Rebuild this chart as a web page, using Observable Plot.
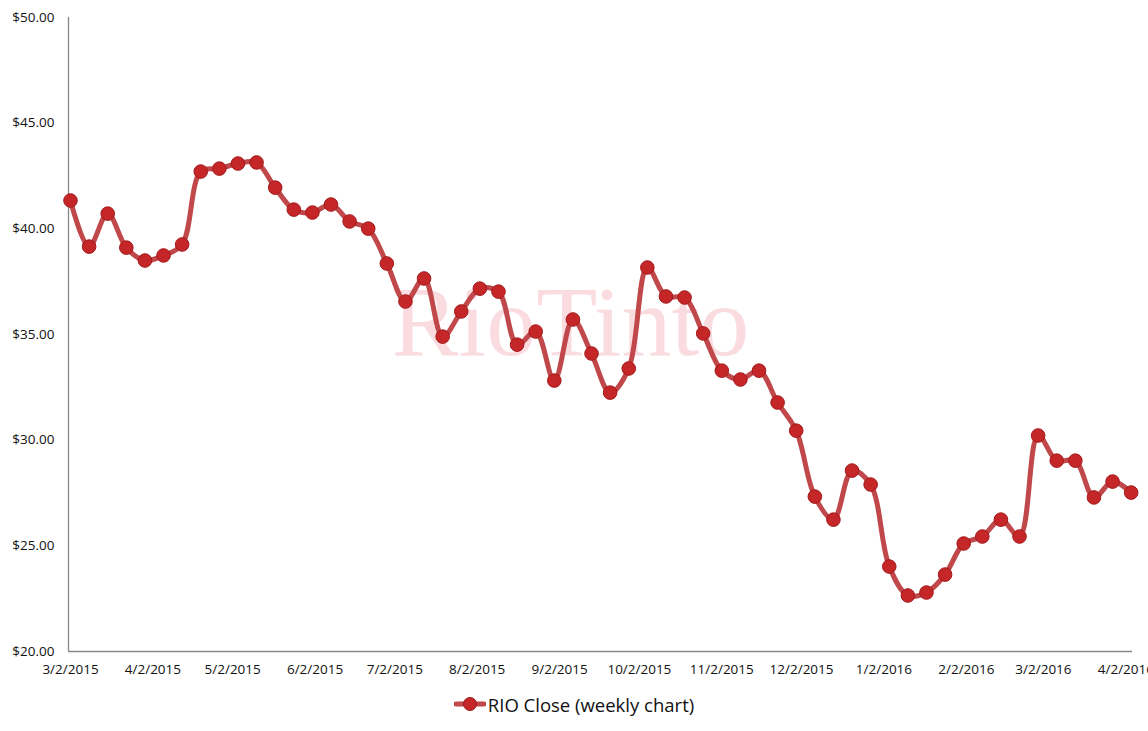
<!DOCTYPE html>
<html>
<head>
<meta charset="utf-8">
<script src="https://cdn.jsdelivr.net/npm/d3@7"></script>
<script src="https://cdn.jsdelivr.net/npm/@observablehq/plot@0.6"></script>
<style>
  html, body { margin: 0; padding: 0; background: #fff; overflow: hidden; }
  #chart { width: 1148px; }
  #legend { height: 38px; display: flex; justify-content: center; align-items: center; font-family: "Open Sans", sans-serif; font-size: 18.5px; color: #111; }
  #legend svg { margin-right: 2px; }
</style>
</head>
<body>
<div id="chart"></div>
<div id="legend"></div>
<script>
const weekDates = [
  "2015-03-02","2015-03-09","2015-03-16","2015-03-23","2015-03-30",
  "2015-04-06","2015-04-13","2015-04-20","2015-04-27",
  "2015-05-04","2015-05-11","2015-05-18","2015-05-25",
  "2015-06-01","2015-06-08","2015-06-15","2015-06-22","2015-06-29",
  "2015-07-06","2015-07-13","2015-07-20","2015-07-27",
  "2015-08-03","2015-08-10","2015-08-17","2015-08-24","2015-08-31",
  "2015-09-07","2015-09-14","2015-09-21","2015-09-28",
  "2015-10-05","2015-10-12","2015-10-19","2015-10-26",
  "2015-11-02","2015-11-09","2015-11-16","2015-11-23","2015-11-30",
  "2015-12-07","2015-12-14","2015-12-21","2015-12-28",
  "2016-01-04","2016-01-11","2016-01-18","2016-01-25",
  "2016-02-01","2016-02-08","2016-02-15","2016-02-22","2016-02-29",
  "2016-03-07","2016-03-14","2016-03-21","2016-03-28",
  "2016-04-04"
];
const closes = [
  41.34, 39.16, 40.72, 39.11, 38.50,
  38.74, 39.26, 42.71, 42.85,
  43.09, 43.14, 41.95, 40.91,
  40.77, 41.15, 40.35, 40.01, 38.36,
  36.56, 37.65, 34.90, 36.09,
  37.17, 37.03, 34.52, 35.14, 32.82,
  35.71, 34.10, 32.25, 33.39,
  38.17, 36.80, 36.75, 35.05,
  33.29, 32.87, 33.29, 31.78, 30.45,
  27.33, 26.24, 28.56, 27.90,
  24.02, 22.65, 22.79, 23.64,
  25.11, 25.44, 26.24, 25.44, 30.22,
  29.03, 29.03, 27.29, 28.04,
  27.52
];
const xTickDates = [
  "2015-03-02","2015-04-02","2015-05-02","2015-06-02","2015-07-02",
  "2015-08-02","2015-09-02","2015-10-02","2015-11-02","2015-12-02",
  "2016-01-02","2016-02-02","2016-03-02","2016-04-02"
];
const yTicks = [20, 25, 30, 35, 40, 45, 50];
const seriesName = "RIO Close (weekly chart)";
const watermark = "RioTinto";

const data = weekDates.map((d, i) => ({date: new Date(d + "T00:00:00Z"), close: closes[i]}));
const ticks = xTickDates.map(d => new Date(d + "T00:00:00Z"));
const fmtDate = d3.utcFormat("%-m/%-d/%Y");
const fmtY = d => "$" + d3.format(".2f")(d);
const xDomain = [new Date("2015-03-01T06:00:00Z"), new Date("2016-04-04T12:00:00Z")];

const lineColor = "#c0474a";
const dotFill = "#c52628";
const dotStroke = "#a3191b";

const chart = Plot.plot({
  width: 1148,
  height: 685,
  marginLeft: 68,
  marginRight: 16,
  marginTop: 17,
  marginBottom: 34,
  style: {fontFamily: "'Open Sans', sans-serif", fontSize: "13.5px", color: "#111", background: "#fff", overflow: "visible"},
  x: {type: "utc", domain: xDomain, ticks: ticks, tickFormat: fmtDate, tickSize: 0, tickPadding: 13, label: null},
  y: {domain: [20, 50], ticks: yTicks, tickFormat: fmtY, tickSize: 0, tickPadding: 14, label: null},
  marks: [
    Plot.text([watermark], {frameAnchor: "middle", dx: -30, dy: -12, text: d => d, fontFamily: "'Liberation Serif', 'DejaVu Serif', serif", fontSize: 100, fill: "#f7c4cb", fillOpacity: 0.6}),
    Plot.ruleX([xDomain[0]], {stroke: "#888", strokeWidth: 1.3}),
    Plot.ruleY([20], {stroke: "#888", strokeWidth: 1.3}),
    Plot.line(data, {x: "date", y: "close", curve: "catmull-rom", stroke: lineColor, strokeWidth: 5, strokeLinejoin: "round", strokeLinecap: "round"}),
    Plot.dot(data, {x: "date", y: "close", r: 6.8, fill: dotFill, stroke: dotStroke, strokeWidth: 1})
  ]
});
document.getElementById("chart").appendChild(chart);

const legend = document.getElementById("legend");
legend.innerHTML = `<svg width="32" height="16"><line x1="2" y1="8" x2="30" y2="8" stroke="${lineColor}" stroke-width="5" stroke-linecap="round"/><circle cx="16" cy="8" r="6.5" fill="${dotFill}" stroke="${dotStroke}"/></svg><span>${seriesName}</span>`;
</script>
</body>
</html>
